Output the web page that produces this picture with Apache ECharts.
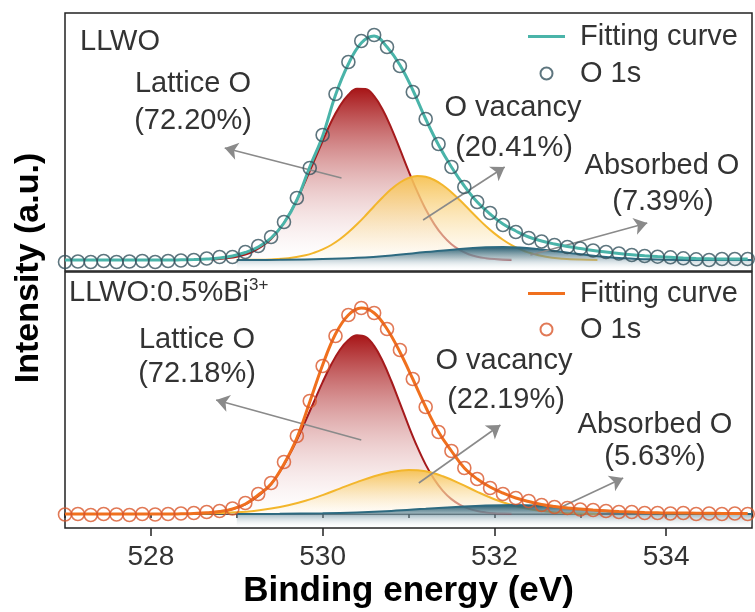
<!DOCTYPE html>
<html>
<head>
<meta charset="utf-8">
<script src="https://cdn.jsdelivr.net/npm/echarts@6/dist/echarts.min.js"></script>
<style>
  html, body { margin: 0; padding: 0; background: #fff; }
  #chart { width: 755px; height: 612px; }
</style>
</head>
<body>
<div id="chart"></div>
<script>
// Binding energies of the measured O 1s points (eV)
const energy = [527.00, 527.15, 527.30, 527.45, 527.60, 527.75, 527.90, 528.05, 528.20, 528.35,
  528.50, 528.65, 528.80, 528.95, 529.10, 529.25, 529.40, 529.55, 529.70, 529.85,
  530.00, 530.15, 530.30, 530.45, 530.60, 530.75, 530.90, 531.05, 531.20, 531.35,
  531.50, 531.65, 531.80, 531.95, 532.10, 532.25, 532.40, 532.55, 532.70, 532.85,
  533.00, 533.15, 533.30, 533.45, 533.60, 533.75, 533.90, 534.05, 534.20, 534.35,
  534.50, 534.65, 534.80, 534.95];

// LLWO: measured O 1s intensity and the overall fitting curve (a.u., background removed)
const o1sLLWO = [-2, -1.5, -2, -1, -2, -1.5, -1, -2, -1, -0.5,
  0, 1.5, 3, 3, 8, 14, 23, 38, 62, 92,
  125, 166, 198, 219, 225, 213, 194, 168, 141, 116,
  93, 73, 58, 47, 35, 28, 22, 18.5, 15, 13,
  11.5, 9.5, 8, 6.5, 5, 4, 3.3, 2.7, 1.7, 0.7,
  0, 1, 1, 1];
const fitLLWO = [0, 0, 0, 0, 0, 0, 0, 0, 0, 0.2,
  0.5, 1, 2, 4, 7.5, 13, 22, 37, 60, 93,
  124, 165, 196, 217, 224, 213, 195, 170, 141, 115,
  93, 74, 58, 46, 36, 29, 23, 19, 16, 13.5,
  11.5, 9.5, 8, 6.5, 5.2, 4.2, 3.4, 2.7, 2, 1.5,
  1.2, 1, 1, 1];

// LLWO:0.5%Bi3+: measured O 1s intensity and fitting curve
const o1sBi = [-0.5, 0, -1, 0, -0.5, -1, 0, -0.5, 0, 0.5,
  1, 2, 3, 5.5, 11, 20, 31, 52, 78, 113,
  148, 178, 199, 206, 201, 185, 164, 135, 107, 82,
  63, 46, 35, 26, 20, 16, 13, 9, 7, 6,
  4.5, 4, 3, 2, 2, 1, 1, 0.5, 1, 0,
  0.5, 0, 0.5, 0];
const fitBi = [0, 0, 0, 0, 0, 0, 0, 0, 0, 0.2,
  0.5, 1.2, 2.5, 5, 10, 19, 30, 50, 76, 112,
  149, 180, 199, 206, 201, 185, 162, 135, 107, 82,
  63, 46, 35, 27, 21, 16, 12.5, 9.5, 7.5, 6,
  5, 4, 3.2, 2.5, 2, 1.5, 1.2, 1, 1, 0.8,
  0.8, 0.6, 0.5, 0.5];

// Deconvoluted components, [binding energy, intensity]
const latticeLLWO = [[528.7,0.5],[528.8,1],[528.9,1.9],[529.0,3.3],[529.1,5.5],[529.2,9],[529.3,14],[529.4,21],[529.5,31],[529.6,44],
  [529.7,60],[529.8,79],[529.9,99],[530.0,119],[530.1,138.3],[530.2,153.9],[530.3,165.3],[530.4,171.2],[530.5,171.1],[530.6,163.8],
  [530.7,150.2],[530.8,131.9],[530.9,110.8],[531.0,89.2],[531.1,68.8],[531.2,50.7],[531.3,35.9],[531.4,24.3],[531.5,15.7],[531.6,9.8],
  [531.7,5.8],[531.8,3.3],[531.9,1.8],[532.0,0.9],[532.1,0.4],[532.2,0.2]];
const vacancyLLWO = [[529.0,0.05],[529.2,0.2],[529.4,0.6],[529.6,1.8],[529.8,4.7],[529.9,7.2],[530.0,10.6],[530.1,15],[530.2,20.7],[530.3,27.7],
  [530.4,35.7],[530.5,44.5],[530.6,53.8],[530.7,62.8],[530.8,70.9],[530.9,77.5],[531.0,82],[531.1,84],[531.2,83.2],[531.3,80],
  [531.4,74.8],[531.5,67.8],[531.6,59.7],[531.7,51],[531.8,42.3],[531.9,34],[532.0,26.6],[532.1,20.2],[532.2,14.8],[532.3,10.6],
  [532.4,7.4],[532.6,3.2],[532.8,1.3],[533.0,0.4],[533.2,0.1]];
const absorbedLLWO = [[529.0,0],[529.5,0.2],[530.0,0.9],[530.4,2.2],[530.8,4.6],[531.2,7.9],[531.6,11.1],[531.9,12.7],[532.1,13],[532.3,12.5],
  [532.5,11],[532.7,9],[532.9,6.8],[533.1,4.7],[533.3,3],[533.5,1.8],[533.8,0.7],[534.2,0.1],[534.6,0],[535.0,0]];

const latticeBi = [[528.7,1.2],[528.8,2.2],[528.9,3.7],[529.0,6.1],[529.1,9.6],[529.2,14.7],[529.3,21.5],[529.4,30],[529.5,42],[529.6,57],
  [529.7,74],[529.8,93],[529.9,112.5],[530.0,131.9],[530.1,149.5],[530.2,164],[530.3,174],[530.4,178.7],[530.5,177.1],[530.6,168.1],
  [530.7,152.8],[530.8,133],[530.9,110.9],[531.0,88.4],[531.1,67.6],[531.2,49.4],[531.3,34.6],[531.4,23.2],[531.5,14.9],[531.6,9.2],
  [531.7,5.4],[531.8,3],[531.9,1.6],[532.0,0.8],[532.1,0.4],[532.2,0.2]];
const vacancyBi = [[528.6,0.4],[528.8,0.9],[529.0,1.7],[529.2,3.1],[529.4,5.4],[529.6,8.7],[529.8,13.2],[530.0,18.9],[530.2,25.4],[530.4,31.9],
  [530.6,37.8],[530.8,42],[531.0,44],[531.2,42.7],[531.4,37.7],[531.6,30.4],[531.8,22.2],[532.0,14.8],[532.2,9],[532.4,4.9],
  [532.6,2.5],[532.8,1.1],[533.0,0.4],[533.2,0.1]];
const absorbedBi = [[529.0,0.05],[529.5,0.2],[530.0,0.7],[530.4,1.6],[530.8,3.1],[531.2,5.2],[531.6,7.3],[531.9,8.5],[532.25,9],[532.5,8.4],
  [532.7,7.3],[532.9,5.8],[533.1,4.3],[533.3,2.9],[533.5,1.8],[533.8,0.8],[534.2,0.2],[534.6,0],[535.0,0]];

// Labelled x ticks
const xTickValues = [528, 530, 532, 534];

// Arrows from each component to its label: [from, to] in data coordinates
const arrowsLLWO = [
  [[530.22, 82], [528.86, 112]],
  [[531.17, 40], [532.12, 93]],
  [[532.42, 5], [533.78, 37]]
];
const arrowsBi = [
  [[530.45, 74], [528.76, 114]],
  [[531.12, 31], [532.07, 89]],
  [[532.78, 7], [533.5, 36]]
];

const FONT = "'Liberation Sans', Arial, Helvetica, sans-serif";
const TEXT = '#333';
const LINE_ICON = 'path://M0,0 L37,0 L37,3 L0,3 Z';

const pairs = (xs, ys) => xs.map((x, i) => [x, ys[i]]);
const grad = stops => ({
  type: 'linear', x: 0, y: 0, x2: 0, y2: 1,
  colorStops: stops.map(([offset, color]) => ({ offset, color }))
});

function component(name, data, panel, line, stops, z, origin) {
  return {
    type: 'line', name, data, xAxisIndex: panel === 0 ? 0 : 1, yAxisIndex: panel,
    smooth: 0.4, symbol: 'none', silent: true, z,
    lineStyle: { color: line, width: 2 },
    areaStyle: { color: grad(stops), opacity: 1, origin: origin || 'auto' }
  };
}

function arrowLines(list) {
  return {
    silent: true, symbol: ['none', 'arrow'], symbolSize: 13, animation: false,
    lineStyle: { color: '#8a8a8a', width: 1.6, type: 'solid' },
    label: { show: false },
    data: list.map(a => [{ coord: a[0] }, { coord: a[1] }])
  };
}

function panelSeries(panel, suffix, lattice, vacancy, absorbed, fit, o1s, fitColor, dotColor, arrows) {
  return [
    component('Lattice O' + suffix, lattice, panel, '#a51a1c',
      [[0, 'rgba(168,22,24,1)'], [1, 'rgba(255,255,255,0.25)']], 2),
    component('O vacancy' + suffix, vacancy, panel, '#f3b62c',
      [[0, 'rgba(246,192,78,0.92)'], [1, 'rgba(255,252,244,0.45)']], 3),
    // the absorbed-oxygen band is shaded all the way down to the axis
    component('Absorbed O' + suffix, absorbed, panel, '#2d6a80',
      [[0, 'rgba(36,92,112,1)'], [0.45, 'rgba(110,145,160,0.55)'], [1, 'rgba(255,255,255,0)']], 4, 'start'),
    {
      type: 'line', name: 'Fitting curve' + suffix, data: pairs(energy, fit),
      xAxisIndex: panel === 0 ? 0 : 1, yAxisIndex: panel,
      smooth: 0.4, symbol: 'none', z: 5,
      lineStyle: { color: fitColor, width: 3 },
      itemStyle: { color: fitColor },
      markLine: arrowLines(arrows)
    },
    {
      type: 'scatter', name: 'O 1s' + suffix, data: pairs(energy, o1s),
      xAxisIndex: panel === 0 ? 0 : 1, yAxisIndex: panel,
      symbol: 'circle', symbolSize: 13, z: 6,
      itemStyle: { color: 'rgba(255,255,255,0)', borderColor: dotColor, borderWidth: 1.6 }
    }
  ];
}

const legendCommon = {
  orient: 'vertical', left: 523, itemWidth: 37, itemHeight: 12,
  selectedMode: false,
  textStyle: { fontFamily: FONT, fontSize: 29, color: TEXT, padding: [0, 0, 0, 10] }
};

function label(text, x, y, size) {
  return {
    type: 'text', x, y, silent: true,
    style: { text, fontFamily: FONT, fontSize: size || 29, fill: TEXT, align: 'center', verticalAlign: 'middle' }
  };
}

const chart = echarts.init(document.getElementById('chart'), null, { renderer: 'canvas' });
chart.setOption({
  animation: false,
  backgroundColor: '#fff',
  grid: [
    { left: 65, right: 3, top: 13, height: 258, show: true, borderColor: '#222', borderWidth: 1.5, backgroundColor: 'transparent' },
    { left: 65, right: 3, top: 272, height: 256, show: true, borderColor: '#222', borderWidth: 1.5, backgroundColor: 'transparent' }
  ],
  xAxis: [
    { type: 'value', gridIndex: 0, min: 527, max: 535, show: false },
    {
      type: 'value', gridIndex: 1, min: 527, max: 535, interval: 1,
      axisLine: { show: true, lineStyle: { color: '#222', width: 1.5 } },
      axisTick: { show: true, length: 4, lineStyle: { color: '#222', width: 1.5 } },
      axisLabel: { show: false }, splitLine: { show: false }
    },
    {
      type: 'value', gridIndex: 1, min: 527, max: 535, position: 'bottom',
      axisLine: { show: false },
      axisTick: { show: true, length: 8, customValues: xTickValues, lineStyle: { color: '#222', width: 1.5 } },
      axisLabel: { show: true, customValues: xTickValues, fontFamily: FONT, fontSize: 28, color: TEXT, margin: 15 },
      splitLine: { show: false },
      name: 'Binding energy (eV)', nameLocation: 'middle', nameGap: 46,
      nameTextStyle: { fontFamily: FONT, fontSize: 35, fontWeight: 'bold', color: '#000' }
    }
  ],
  yAxis: [
    { type: 'value', gridIndex: 0, min: -11, max: 247, show: false },
    { type: 'value', gridIndex: 1, min: -14, max: 242, show: false }
  ],
  legend: [
    Object.assign({}, legendCommon, {
      top: 17, itemGap: 8,
      data: [{ name: 'Fitting curve', icon: LINE_ICON }, 'O 1s']
    }),
    Object.assign({}, legendCommon, {
      top: 274, itemGap: 7,
      data: [{ name: 'Fitting curve (Bi)', icon: LINE_ICON }, 'O 1s (Bi)'],
      formatter: n => n.replace(' (Bi)', '')
    })
  ],
  series: [].concat(
    panelSeries(0, '', latticeLLWO, vacancyLLWO, absorbedLLWO, fitLLWO, o1sLLWO, '#4ab4a9', '#35535e', arrowsLLWO),
    panelSeries(1, ' (Bi)', latticeBi, vacancyBi, absorbedBi, fitBi, o1sBi, '#f0701e', '#d9582c', arrowsBi)
  ),
  graphic: [
    {
      type: 'text', x: 80, y: 42, silent: true,
      style: { text: 'LLWO', fontFamily: FONT, fontSize: 29, fill: TEXT, align: 'left', verticalAlign: 'middle' }
    },
    label('Lattice O', 193, 84),
    label('(72.20%)', 193, 121),
    label('O vacancy', 513, 108),
    label('(20.41%)', 514, 148),
    label('Absorbed O', 662, 166),
    label('(7.39%)', 663, 202),
    {
      type: 'text', x: 69, y: 293, silent: true,
      style: {
        text: '{m|LLWO:0.5%Bi}{s|3+}', fontFamily: FONT, fill: TEXT, align: 'left', verticalAlign: 'middle',
        rich: {
          m: { fontFamily: FONT, fontSize: 29, color: TEXT, lineHeight: 32 },
          s: { fontFamily: FONT, fontSize: 17, color: TEXT, lineHeight: 32, verticalAlign: 'top' }
        }
      }
    },
    label('Lattice O', 197, 340),
    label('(72.18%)', 197, 374),
    label('O vacancy', 504, 361),
    label('(22.19%)', 506, 400),
    label('Absorbed O', 655, 425),
    label('(5.63%)', 655, 457),
    {
      type: 'text', x: 29, y: 268, rotation: Math.PI / 2, silent: true,
      style: { text: 'Intensity (a.u.)', fontFamily: FONT, fontSize: 34, fontWeight: 'bold', fill: '#000', align: 'center', verticalAlign: 'middle' }
    }
  ]
});
</script>
</body>
</html>
